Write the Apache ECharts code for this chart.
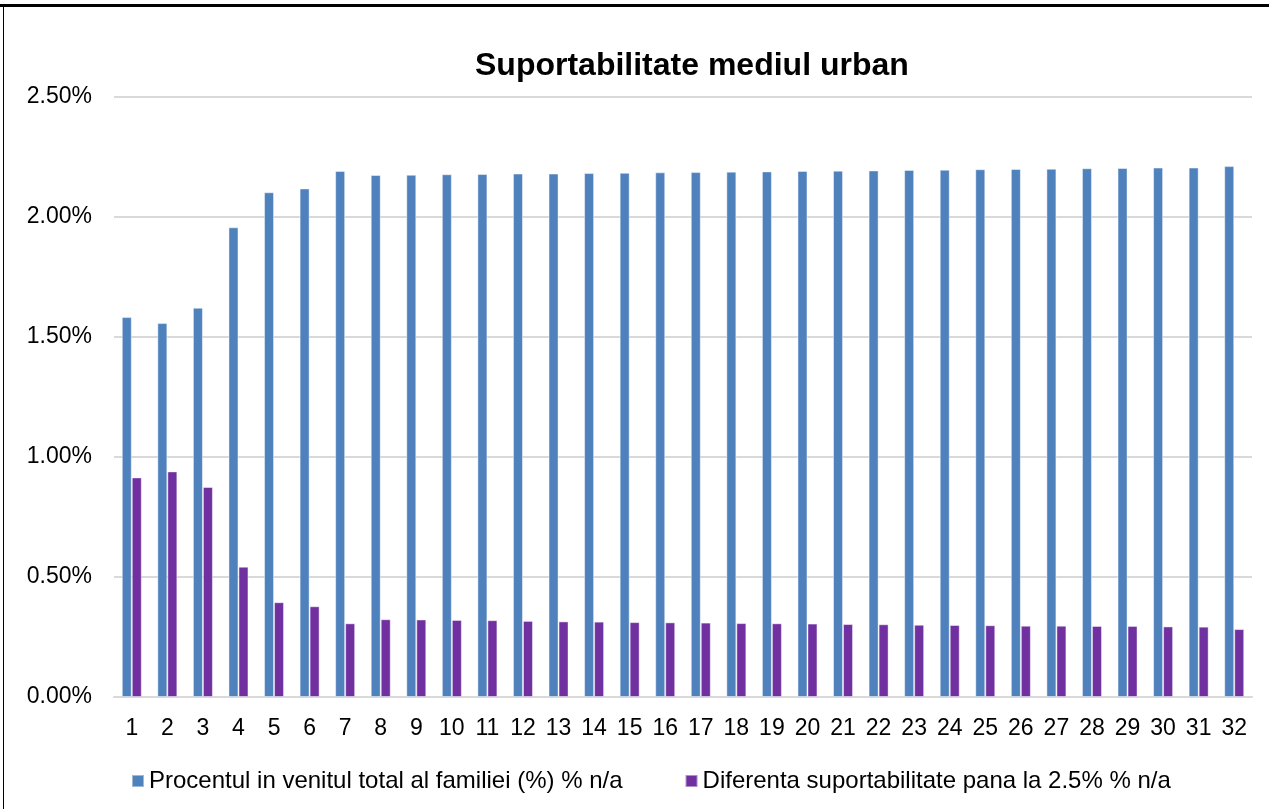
<!DOCTYPE html>
<html>
<head>
<meta charset="utf-8">
<script src="https://cdn.jsdelivr.net/npm/echarts@6/dist/echarts.min.js"></script>
<style>
  html, body { margin: 0; padding: 0; background: #fff; }
  #chart { width: 1269px; height: 809px; }
</style>
</head>
<body>
<div id="chart"></div>
<script>
const categories = ['1', '2', '3', '4', '5', '6', '7', '8', '9', '10', '11', '12', '13', '14', '15', '16',
    '17', '18', '19', '20', '21', '22', '23', '24', '25', '26', '27', '28', '29', '30', '31', '32'];

// procent din venitul total (%)
const procentVenit = [1.583, 1.558, 1.622, 1.957, 2.103, 2.119, 2.192, 2.175, 2.176, 2.178, 2.179,
    2.181, 2.181, 2.183, 2.184, 2.186, 2.187, 2.189, 2.190, 2.192, 2.193, 2.194, 2.196, 2.197,
    2.199, 2.200, 2.201, 2.203, 2.204, 2.206, 2.206, 2.212];

// diferenta pana la 2.5% (%)
const diferenta = [0.915, 0.940, 0.875, 0.543, 0.395, 0.378, 0.307, 0.324, 0.323, 0.321, 0.320,
    0.317, 0.315, 0.314, 0.312, 0.311, 0.310, 0.308, 0.307, 0.306, 0.304, 0.303, 0.301, 0.300,
    0.299, 0.297, 0.297, 0.296, 0.296, 0.294, 0.293, 0.283];

const yTicks = [0, 0.5, 1, 1.5, 2, 2.5];

const chart = echarts.init(document.getElementById('chart'));
const font = "'Liberation Sans', Arial, sans-serif";

chart.setOption({
    animation: false,
    backgroundColor: '#fff',
    title: {
        text: 'Suportabilitate mediul urban',
        left: 470,
        top: 45,
        textStyle: { fontFamily: font, fontSize: 32, fontWeight: 'bold', color: '#000' }
    },
    legend: {
        left: 126,
        top: 764,
        icon: 'rect',
        itemWidth: 12,
        itemHeight: 12,
        itemGap: 62,
        textStyle: { fontFamily: font, fontSize: 24, color: '#000' }
    },
    grid: { left: 114, right: 17, top: 97, bottom: 112 },
    xAxis: {
        type: 'category',
        data: categories,
        axisLine: { lineStyle: { color: '#d9d9d9', width: 2 } },
        axisTick: { show: false },
        axisLabel: { fontFamily: font, fontSize: 23, color: '#000', margin: 20, interval: 0 }
    },
    yAxis: {
        type: 'value',
        min: yTicks[0],
        max: yTicks[yTicks.length - 1],
        interval: 0.5,
        axisLine: { show: false },
        axisTick: { show: false },
        splitLine: { lineStyle: { color: '#d9d9d9', width: 2 } },
        axisLabel: {
            fontFamily: font, fontSize: 23, color: '#000', margin: 22,
            formatter: function (v) { return v.toFixed(2) + '%'; }
        }
    },
    series: [
        {
            name: 'Procentul in venitul total al familiei (%) % n/a',
            type: 'bar',
            data: procentVenit,
            barWidth: 10,
            barGap: '0%',
            itemStyle: { color: '#4f81bd', borderColor: 'rgba(255,255,255,0.45)', borderWidth: 1 }
        },
        {
            name: 'Diferenta suportabilitate pana la 2.5% % n/a',
            type: 'bar',
            data: diferenta,
            barWidth: 10,
            barGap: '0%',
            itemStyle: { color: '#7030a0', borderColor: 'rgba(255,255,255,0.45)', borderWidth: 1 }
        }
    ],
    graphic: [
        { type: 'rect', shape: { x: 0, y: 4, width: 1269, height: 3 }, style: { fill: '#000' } },
        { type: 'rect', shape: { x: 3, y: 7, width: 1, height: 802 }, style: { fill: '#000' } }
    ]
});
</script>
</body>
</html>
